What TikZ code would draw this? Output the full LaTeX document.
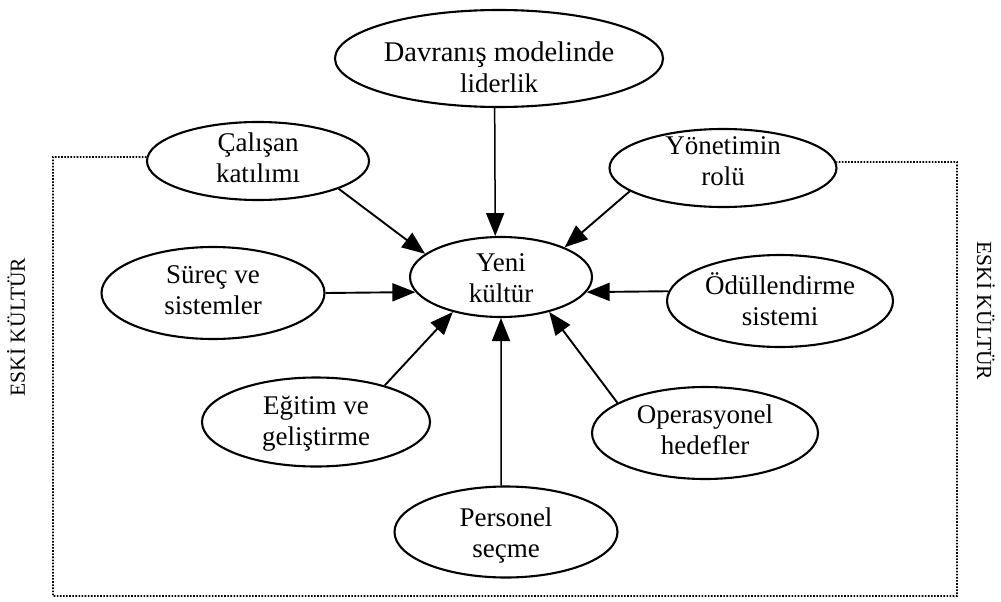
\documentclass[tikz,border=0pt]{standalone}
\usepackage{fontspec}
\setmainfont{Liberation Serif}
\usetikzlibrary{shapes.geometric,arrows.meta}
\newcommand\ovt[2]{\raisebox{#1}[0pt][0pt]{\begin{tabular}{@{}c@{}}#2\end{tabular}}}
\begin{document}
\begin{tikzpicture}[x=1pt,y=-1pt,
  oval/.style={draw, line width=2.1pt, ellipse, inner sep=-20pt,
    font=\fontsize{27}{31}\selectfont},
  arr/.style={line width=1.9pt, -{Triangle[length=23pt,width=18pt]}},
  frame/.style={line width=1.8pt, dash pattern=on 1.6pt off 1.5pt},
  side/.style={font=\fontsize{21.5}{24}\selectfont, inner sep=0pt}]
\useasboundingbox (0,0) rectangle (1001,602);
% ellipses
\node[oval, minimum width=328pt, minimum height=97pt] (dav) at (499,58.5) {\ovt{-19pt}{\fontsize{28.5}{32}\selectfont Davranış modelinde\\liderlik}};
\node[oval, minimum width=222pt, minimum height=78pt] (cal) at (258,161) {\ovt{-6pt}{Çalışan\\katılımı}};
\node[oval, minimum width=227pt, minimum height=78pt] (yon) at (723,168) {\ovt{-2pt}{Yönetimin\\rolü}};
\node[oval, minimum width=223pt, minimum height=92pt] (sur) at (213,293) {\ovt{-6pt}{Süreç ve\\sistemler}};
\node[oval, minimum width=182pt, minimum height=80pt] (yeni) at (501,277) {\ovt{-10pt}{Yeni\\kültür}};
\node[oval, minimum width=226pt, minimum height=92pt] (odul) at (780,301) {\ovt{-9pt}{Ödüllendirme\\sistemi}};
\node[oval, minimum width=228pt, minimum height=89pt] (egi) at (316,422) {\ovt{-8pt}{Eğitim ve\\geliştirme}};
\node[oval, minimum width=226pt, minimum height=92pt] (ope) at (705,433) {\ovt{-6pt}{Operasyonel\\hedefler}};
\node[oval, minimum width=223pt, minimum height=91pt] (per) at (506,532) {\ovt{-10pt}{Personel\\seçme}};
% arrows
\draw[arr, line width=1.5pt] (dav.265) -- (yeni.98);
\draw[arr, line width=1.5pt] (per.96) -- (yeni.south);
\draw[arr] (sur.east) -- (yeni.190);
\draw[arr] (odul.175) -- (yeni.-10);
\draw[arr] (cal.-19) -- (yeni.163);
\draw[arr] (yon.194) -- (yeni.25);
\draw[arr] (egi.28) -- (yeni.216);
\draw[arr] (ope.161) -- (yeni.-36);
% dotted frame
\coordinate (tl) at (53,157);
\coordinate (bl) at (53,596);
\coordinate (br) at (957,596);
\coordinate (tr) at (957,162);
\draw[frame] (cal.178) -- (tl) -- (bl) -- (br) -- (tr) -- (yon.3);
% side labels
\node[side, rotate=90] (eskiL) at (16,327) {ESKİ KÜLTÜR};
\node[side, rotate=-90] (eskiR) at (986,311) {ESKİ KÜLTÜR};
\end{tikzpicture}
\end{document}
